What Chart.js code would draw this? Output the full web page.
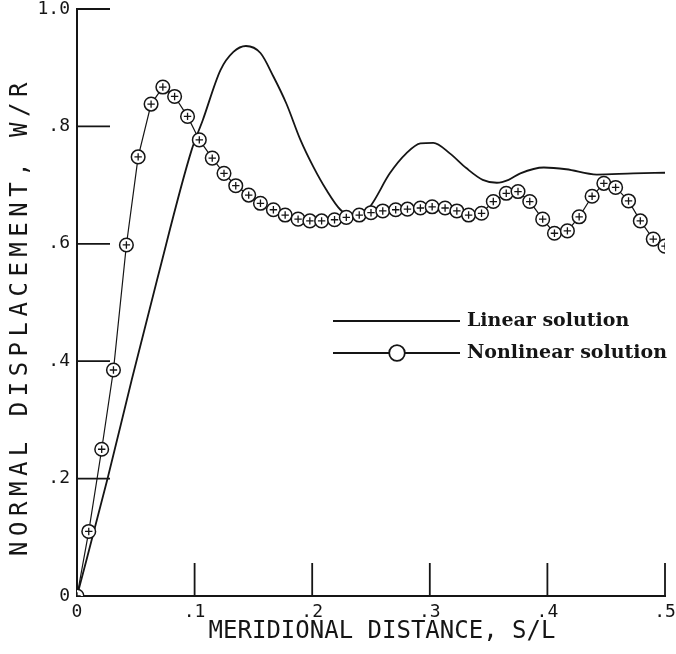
<!DOCTYPE html>
<html>
<head>
<meta charset="utf-8">
<script src="https://cdn.jsdelivr.net/npm/chart.js@4.4.0/dist/chart.umd.min.js"></script>
<style>
  html, body { margin: 0; padding: 0; background: #fff; }
  #wrap { width: 676px; height: 654px; }
</style>
</head>
<body>
<div id="wrap"><canvas id="c" width="676" height="654"></canvas></div>
<script>
// Axis tick labels
const xTickLabels = ['0', '.1', '.2', '.3', '.4', '.5'];
const yTickLabels = ['0', '.2', '.4', '.6', '.8', '1.0'];

// Linear solution: meridional distance S/L and normal displacement W/R
const linearS = [0, 0.026, 0.0465, 0.068, 0.0975, 0.107, 0.122, 0.133, 0.1437, 0.156, 0.167, 0.178,
  0.190, 0.201, 0.212, 0.224, 0.236, 0.249, 0.266, 0.280, 0.292, 0.303, 0.317, 0.331, 0.345,
  0.357, 0.367, 0.377, 0.397, 0.416, 0.442, 0.473, 0.5];
const linearW = [0, 0.200, 0.368, 0.538, 0.760, 0.811, 0.896, 0.927, 0.937, 0.925, 0.885, 0.839,
  0.777, 0.731, 0.692, 0.658, 0.644, 0.663, 0.720, 0.754, 0.771, 0.772, 0.754, 0.729, 0.709,
  0.704, 0.709, 0.720, 0.730, 0.727, 0.718, 0.720, 0.721];

// Nonlinear solution at the computed stations
const nonlinearS = [0, 0.010, 0.021, 0.031, 0.042, 0.052, 0.063, 0.073, 0.083, 0.094, 0.104,
  0.115, 0.125, 0.135, 0.146, 0.156, 0.167, 0.177, 0.188, 0.198, 0.208, 0.219, 0.229, 0.240,
  0.250, 0.260, 0.271, 0.281, 0.292, 0.302, 0.313, 0.323, 0.333, 0.344, 0.354, 0.365, 0.375,
  0.385, 0.396, 0.406, 0.417, 0.427, 0.438, 0.448, 0.458, 0.469, 0.479, 0.490, 0.500];
const nonlinearW = [0, 0.110, 0.250, 0.385, 0.598, 0.748, 0.838, 0.867, 0.851, 0.817, 0.777,
  0.746, 0.720, 0.699, 0.683, 0.669, 0.658, 0.649, 0.642, 0.639, 0.639, 0.641, 0.645, 0.649,
  0.653, 0.656, 0.658, 0.659, 0.661, 0.663, 0.661, 0.656, 0.649, 0.652, 0.672, 0.686, 0.689,
  0.672, 0.642, 0.618, 0.622, 0.646, 0.681, 0.703, 0.696, 0.673, 0.639, 0.608, 0.596];

const seriesNames = ['Linear solution', 'Nonlinear solution'];
const xAxisTitle = 'MERIDIONAL DISTANCE, S/L';
const yAxisTitle = 'NORMAL DISPLACEMENT, W/R';

const INK = '#151515';
const PLOT_FONT = "'DejaVu Sans Mono', monospace";
const TICK_LEN = 33;

// Tick marks drawn inward from both axes
const inwardTicks = {
  id: 'inwardTicks',
  beforeDatasetsDraw(chart) {
    const { ctx, chartArea: a, scales: { x, y } } = chart;
    ctx.save();
    ctx.strokeStyle = INK;
    ctx.lineWidth = 1.8;
    ctx.beginPath();
    x.ticks.forEach(t => {
      if (t.value === 0) return;
      const px = x.getPixelForValue(t.value);
      ctx.moveTo(px, a.bottom);
      ctx.lineTo(px, a.bottom - TICK_LEN);
    });
    y.ticks.forEach(t => {
      if (t.value === 0) return;
      const py = y.getPixelForValue(t.value);
      ctx.moveTo(a.left, py);
      ctx.lineTo(a.left + TICK_LEN, py);
    });
    ctx.stroke();
    ctx.restore();
  }
};

// Key with sample lines, placed inside the plot
const keyBox = {
  id: 'keyBox',
  afterDraw(chart) {
    const ctx = chart.ctx;
    const x0 = 333, x1 = 460, rows = [321, 353];
    ctx.save();
    ctx.strokeStyle = INK;
    ctx.lineWidth = 2.2;
    rows.forEach(yy => {
      ctx.beginPath();
      ctx.moveTo(x0, yy);
      ctx.lineTo(x1, yy);
      ctx.stroke();
    });
    ctx.beginPath();
    ctx.arc(397, rows[1], 7.8, 0, Math.PI * 2);
    ctx.fillStyle = '#fff';
    ctx.fill();
    ctx.lineWidth = 1.8;
    ctx.stroke();
    ctx.fillStyle = INK;
    ctx.font = "bold 19px 'DejaVu Serif', serif";
    ctx.textBaseline = 'middle';
    ctx.textAlign = 'left';
    seriesNames.forEach((name, i) => ctx.fillText(name, 467, rows[i]));
    ctx.restore();
  }
};

function zeroPad(scale) {
  scale.paddingTop = 0;
  scale.paddingBottom = 0;
  scale.paddingLeft = 0;
  scale.paddingRight = 0;
}

// Wrap a scale's title drawing to add letter spacing and a small shift
function styleTitle(scale, spacing, dx, dy) {
  if (scale._titleStyled) return;
  scale._titleStyled = true;
  const draw = scale.drawTitle;
  scale.drawTitle = function () {
    const ctx = this.ctx;
    ctx.save();
    ctx.letterSpacing = spacing;
    ctx.translate(dx, dy);
    draw.call(this);
    ctx.restore();
  };
}

const nonlinearPoints = nonlinearS.map((s, i) => ({ x: s, y: nonlinearW[i] }));

new Chart(document.getElementById('c'), {
  type: 'scatter',
  data: {
    datasets: [
      {
        label: seriesNames[0],
        data: linearS.map((s, i) => ({ x: s, y: linearW[i] })),
        showLine: true,
        borderColor: INK,
        borderWidth: 1.8,
        pointRadius: 0,
        cubicInterpolationMode: 'monotone',
        order: 3
      },
      {
        label: seriesNames[1],
        data: nonlinearPoints,
        showLine: true,
        borderColor: INK,
        borderWidth: 1.2,
        tension: 0,
        pointStyle: 'circle',
        pointRadius: 6.8,
        pointBackgroundColor: '#fff',
        pointBorderColor: INK,
        pointBorderWidth: 1.5,
        order: 2
      },
      {
        // plus signs inside the nonlinear markers
        label: seriesNames[1] + ' +',
        data: nonlinearPoints,
        showLine: false,
        pointStyle: 'cross',
        pointRadius: 3.7,
        pointBorderColor: INK,
        pointBorderWidth: 1.3,
        order: 1
      }
    ]
  },
  options: {
    responsive: false,
    animation: false,
    devicePixelRatio: 1,
    layout: { padding: { top: 9, right: 11, left: 0, bottom: 0 } },
    plugins: { legend: { display: false }, tooltip: { enabled: false } },
    scales: {
      x: {
        type: 'linear',
        min: 0, max: 0.5,
        grid: { display: false, drawTicks: false },
        border: { display: true, color: INK, width: 2 },
        ticks: {
          stepSize: 0.1,
          padding: 6,
          color: INK,
          font: { family: PLOT_FONT, size: 18 },
          maxRotation: 0,
          callback: (v, i) => xTickLabels[i]
        },
        title: {
          display: true,
          text: xAxisTitle,
          color: INK,
          font: { family: PLOT_FONT, size: 24 },
          padding: { top: 0, bottom: 8 }
        },
        afterFit(scale) { scale.height = 58; zeroPad(scale); styleTitle(scale, '0px', 11, 0); }
      },
      y: {
        type: 'linear',
        min: 0, max: 1.0,
        grid: { display: false, drawTicks: false },
        border: { display: true, color: INK, width: 2 },
        ticks: {
          stepSize: 0.2,
          padding: 7,
          color: INK,
          font: { family: PLOT_FONT, size: 18 },
          callback: (v, i) => yTickLabels[i]
        },
        title: {
          display: true,
          text: yAxisTitle,
          color: INK,
          font: { family: PLOT_FONT, size: 24 },
          padding: { top: 6, bottom: 0 }
        },
        afterFit(scale) { scale.width = 77; zeroPad(scale); styleTitle(scale, '5.5px', 0, 14); }
      }
    }
  },
  plugins: [inwardTicks, keyBox]
});
</script>
</body>
</html>
